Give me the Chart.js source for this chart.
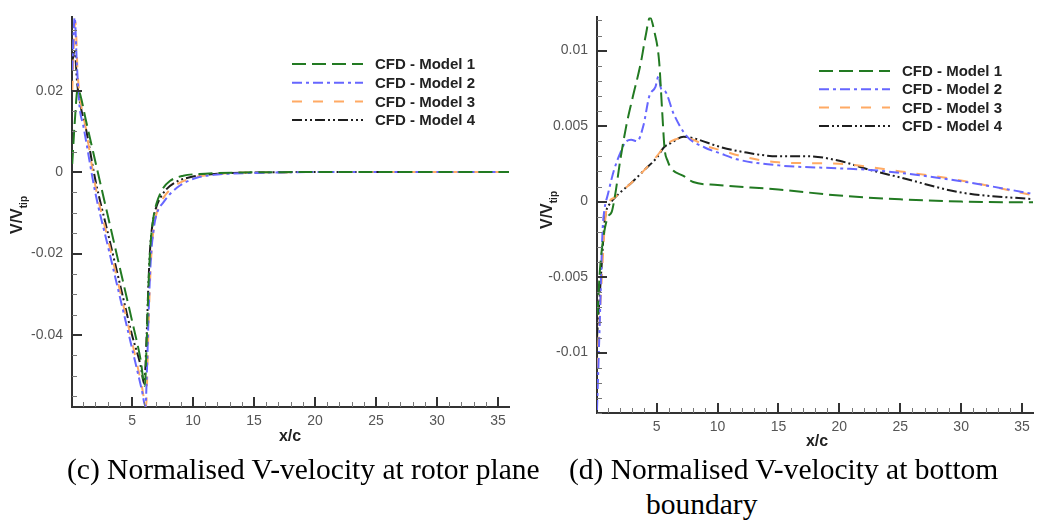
<!DOCTYPE html>
<html>
<head>
<meta charset="utf-8">
<script src="https://cdn.jsdelivr.net/npm/chart.js@4.4.0/dist/chart.umd.min.js"></script>
<style>
  body { margin: 0; background: #fff; width: 1040px; height: 521px; position: relative; overflow: hidden; }
  .wrap { position: absolute; top: 0; }
  .cap { position: absolute; font-family: 'Liberation Serif', 'Times New Roman', serif; font-size: 29.5px; color: #000; white-space: nowrap; line-height: 34px; }
</style>
</head>
<body>
<div class="wrap" style="left:0"><canvas id="rotorChart" width="520" height="450"></canvas></div>
<div class="wrap" style="left:520px"><canvas id="bottomChart" width="520" height="455"></canvas></div>
<div class="cap" style="left:67px;top:452px">(c) Normalised V-velocity at rotor plane</div>
<div class="cap" style="left:569px;top:452px">(d) Normalised V-velocity at bottom</div>
<div class="cap" style="left:646px;top:487px">boundary</div>
<script>
// ---- data (x/c, V/Vtip) ----
const seriesNames = ['CFD - Model 1', 'CFD - Model 2', 'CFD - Model 3', 'CFD - Model 4']

// (c) rotor plane
const rotorModel1 = [[0.1,0.002],[0.3,0.012],[0.55,0.0205],[0.8,0.0185],[1.2,0.013],[2,0.0025],[3,-0.0105],[4,-0.0235],[5,-0.0365],[5.7,-0.046],[6.05,-0.0525],[6.2,-0.042],[6.35,-0.028],[6.5,-0.0185],[6.75,-0.0113],[7.0,-0.0078],[7.5,-0.0042],[8.1,-0.0022],[9.2,-0.0009],[11,-0.0004],[14,-0.0001],[20,0],[36,0]]
const rotorModel2 = [[0.1,0.025],[0.3,0.038],[0.47,0.027],[0.7,0.016],[1.0,0.0115],[2,-0.0052],[3,-0.0179],[4,-0.0306],[5,-0.0433],[5.8,-0.0535],[6.1,-0.0575],[6.25,-0.046],[6.4,-0.031],[6.55,-0.021],[6.8,-0.0135],[7.0,-0.0105],[7.6,-0.0073],[8.7,-0.0038],[10.3,-0.0014],[12,-0.0006],[15,-0.0002],[20,0],[36,0]]
const rotorModel3 = [[0.1,0.02],[0.35,0.037],[0.55,0.024],[0.8,0.017],[1.2,0.011],[2,-0.0035],[3,-0.0162],[4,-0.029],[5,-0.0417],[5.8,-0.0525],[6.15,-0.0577],[6.3,-0.044],[6.45,-0.029],[6.6,-0.0195],[6.85,-0.0125],[7.1,-0.0093],[7.6,-0.0062],[8.6,-0.0032],[10,-0.0014],[12,-0.0005],[15,-0.0001],[20,0],[36,0]]
const rotorModel4 = [[0.1,0.027],[0.3,0.030],[0.5,0.022],[0.8,0.016],[1.2,0.011],[2,-0.002],[3,-0.0147],[4,-0.0274],[5,-0.040],[5.7,-0.0475],[6.0,-0.052],[6.2,-0.04],[6.35,-0.027],[6.5,-0.018],[6.75,-0.0115],[7.0,-0.0085],[7.6,-0.005],[8.5,-0.0026],[10,-0.0011],[12,-0.0004],[15,-0.0001],[20,0],[36,0]]
const rotorXTicks = [5, 10, 15, 20, 25, 30, 35]
const rotorYTicks = [-0.04, -0.02, 0, 0.02]

// (d) bottom boundary
const bottomModel1 = [[0.15,-0.0075],[0.3,-0.005],[0.6,-0.0025],[1.0,-0.001],[1.3,-0.0007],[1.6,0.0005],[2.0,0.0027],[2.5,0.005],[3.0,0.0068],[3.7,0.0092],[4.1,0.011],[4.45,0.0122],[4.8,0.0113],[5.2,0.0093],[5.45,0.006],[5.65,0.0035],[5.9,0.0027],[6.2,0.0022],[7.2,0.0017],[8.0,0.0013],[10,0.0011],[15,0.0008],[20,0.0004],[25,0.00015],[30,0.0],[36,-0.00005]]
const bottomModel2 = [[0.1,-0.0138],[0.25,-0.01],[0.4,-0.006],[0.55,-0.002],[0.7,-0.0006],[1.0,0.0005],[1.5,0.0021],[2.0,0.0032],[2.4,0.0039],[2.9,0.0041],[3.4,0.004],[3.9,0.005],[4.4,0.007],[4.9,0.0076],[5.15,0.0083],[5.35,0.0075],[5.7,0.0073],[6.4,0.0058],[7.5,0.0043],[8.9,0.0036],[10.2,0.0032],[11.6,0.0028],[15,0.0024],[20,0.0022],[22.5,0.0021],[25,0.0019],[30,0.00135],[36,0.0005]]
const bottomModel3 = [[0.1,-0.011],[0.3,-0.008],[0.5,-0.005],[0.7,-0.002],[0.9,-0.0004],[1.2,0.0001],[1.5,0.00025],[2.0,0.0006],[3.0,0.0013],[4.0,0.0021],[5.0,0.003],[5.6,0.0036],[6.2,0.004],[7.2,0.0042],[8.0,0.0041],[9,0.0037],[10.3,0.0034],[12,0.003],[15,0.0026],[20,0.0025],[25,0.002],[30,0.0014],[36,0.0004]]
const bottomModel4 = [[0.1,-0.009],[0.3,-0.0065],[0.5,-0.004],[0.7,-0.0015],[0.9,-0.0005],[1.1,-0.0002],[1.5,0.0002],[2.0,0.0006],[3.0,0.0013],[4.0,0.0021],[5.0,0.0029],[5.6,0.0036],[6.2,0.0039],[7.2,0.0043],[8.0,0.0042],[10.3,0.0036],[12,0.0033],[15,0.003],[17.5,0.003],[20,0.0027],[22.5,0.0021],[25,0.0016],[30,0.0006],[36,0.00015]]
const bottomXTicks = [5, 10, 15, 20, 25, 30, 35]
const bottomYTicks = [-0.01, -0.005, 0, 0.005, 0.01]

// line looks, tecplot-ish
const lineStyles = [
    { color: 'rgb(34,122,34)', dash: [14, 6] },
    { color: 'rgb(102,102,255)', dash: [10, 4, 3, 4] },
    { color: 'rgb(255,170,100)', dash: [10, 11] },
    { color: 'rgb(30,30,30)', dash: [10, 3, 2, 3, 2, 3] },
]

const FONT = "'Liberation Sans', Arial, Helvetica, sans-serif"

function minorTicks(min, max, step) {
    const out = []
    for (let v = Math.ceil(min / step) * step; v <= max + 1e-12; v += step) out.push(+v.toFixed(6))
    return out
}

// inward ticks, axis titles and the legend, drawn on top
const tecplotAxes = {
    id: 'tecplotAxes',
    afterDraw(chart, args, o) {
        const { ctx, chartArea: a, scales: { x, y } } = chart
        ctx.save()
        ctx.strokeStyle = '#777'
        ctx.lineWidth = 1
        minorTicks(x.min, x.max, o.xMinor).forEach(v => {
            const px = Math.round(x.getPixelForValue(v)) + 0.5
            ctx.beginPath(); ctx.moveTo(px, a.bottom); ctx.lineTo(px, a.bottom - 5); ctx.stroke()
        })
        minorTicks(y.min, y.max, o.yMinor).forEach(v => {
            const py = Math.round(y.getPixelForValue(v)) + 0.5
            ctx.beginPath(); ctx.moveTo(a.left, py); ctx.lineTo(a.left + 5, py); ctx.stroke()
        })
        ctx.strokeStyle = '#333'
        ctx.lineWidth = 2
        o.xTicks.forEach(v => {
            const px = Math.round(x.getPixelForValue(v))
            ctx.beginPath(); ctx.moveTo(px, a.bottom); ctx.lineTo(px, a.bottom - 10); ctx.stroke()
        })
        o.yTicks.forEach(v => {
            const py = Math.round(y.getPixelForValue(v))
            ctx.beginPath(); ctx.moveTo(a.left, py); ctx.lineTo(a.left + 10, py); ctx.stroke()
        })

        // x title
        ctx.fillStyle = '#222'
        ctx.font = 'bold 16px ' + FONT
        ctx.textAlign = 'center'
        ctx.textBaseline = 'middle'
        ctx.fillText('x/c', o.xTitle[0], o.xTitle[1])

        // y title with subscript
        ctx.save()
        ctx.translate(o.yTitle[0], o.yTitle[1])
        ctx.rotate(-Math.PI / 2)
        ctx.font = 'bold 16px ' + FONT
        const w1 = ctx.measureText('V/V').width
        ctx.font = 'bold 10px ' + FONT
        const w2 = ctx.measureText('tip').width
        ctx.textAlign = 'left'
        ctx.font = 'bold 16px ' + FONT
        ctx.fillText('V/V', -(w1 + w2) / 2, 0)
        ctx.font = 'bold 10px ' + FONT
        ctx.fillText('tip', -(w1 + w2) / 2 + w1, 6)
        ctx.restore()

        // legend
        chart.data.datasets.forEach((ds, i) => {
            const ly = o.legend.y + i * o.legend.gap
            ctx.strokeStyle = ds.borderColor
            ctx.lineWidth = 2
            ctx.setLineDash(ds.borderDash)
            ctx.beginPath(); ctx.moveTo(o.legend.x, ly); ctx.lineTo(o.legend.x + 71, ly); ctx.stroke()
            ctx.setLineDash([])
            ctx.fillStyle = '#222'
            ctx.font = 'bold 15px ' + FONT
            ctx.textAlign = 'left'
            ctx.fillText(ds.label, o.legend.x + 83, ly + 1)
        })
        ctx.restore()
    }
}

function buildChart(canvasId, series, xTicks, yTicks, cfg) {
    const datasets = series.map((pts, i) => ({
        label: seriesNames[i],
        data: pts.map(p => ({ x: p[0], y: p[1] })),
        borderColor: lineStyles[i].color,
        borderDash: lineStyles[i].dash,
        borderWidth: 2,
        pointRadius: 0,
        fill: false,
        cubicInterpolationMode: 'monotone',
    }))
    return new Chart(document.getElementById(canvasId), {
        type: 'line',
        data: { datasets },
        plugins: [tecplotAxes],
        options: {
            responsive: false,
            animation: false,
            layout: { padding: cfg.padding },
            scales: {
                x: {
                    type: 'linear',
                    min: cfg.xRange[0], max: cfg.xRange[1],
                    afterBuildTicks: s => { s.ticks = xTicks.map(v => ({ value: v })) },
                    afterFit: s => { s.height = cfg.xHeight },
                    grid: { display: false, drawTicks: false },
                    border: { display: true, color: '#333', width: 2 },
                    ticks: { padding: 6, color: '#555', font: { family: FONT, size: 14 }, maxRotation: 0, callback: v => String(v) },
                },
                y: {
                    type: 'linear',
                    min: cfg.yRange[0], max: cfg.yRange[1],
                    afterBuildTicks: s => { s.ticks = yTicks.map(v => ({ value: v })) },
                    afterFit: s => { s.width = cfg.yWidth },
                    grid: { display: false, drawTicks: false },
                    border: { display: true, color: '#333', width: 2 },
                    ticks: { padding: 9, color: '#555', font: { family: FONT, size: 14 }, callback: v => String(v) },
                },
            },
            plugins: {
                legend: { display: false },
                tooltip: { enabled: false },
                tecplotAxes: cfg.deco,
            },
        },
    })
}

buildChart('rotorChart', [rotorModel1, rotorModel2, rotorModel3, rotorModel4], rotorXTicks, rotorYTicks, {
    padding: { left: 0, top: 6, right: 11, bottom: 0 },
    xRange: [0.08, 35.9], yRange: [-0.0577, 0.038],
    xHeight: 43, yWidth: 72,
    deco: { xTicks: rotorXTicks, yTicks: rotorYTicks, xMinor: 1, yMinor: 0.005,
        xTitle: [290, 437], yTitle: [18, 215], legend: { x: 292, y: 64, gap: 18.7 } },
})

buildChart('bottomChart', [bottomModel1, bottomModel2, bottomModel3, bottomModel4], bottomXTicks, bottomYTicks, {
    padding: { left: 0, top: 13, right: 7, bottom: 0 },
    xRange: [0.1, 35.9], yRange: [-0.014, 0.0122],
    xHeight: 42, yWidth: 77,
    deco: { xTicks: bottomXTicks, yTicks: bottomYTicks, xMinor: 1, yMinor: 0.001,
        xTitle: [297, 442], yTitle: [28, 210], legend: { x: 299, y: 71, gap: 18.3 } },
})
</script>
</body>
</html>
